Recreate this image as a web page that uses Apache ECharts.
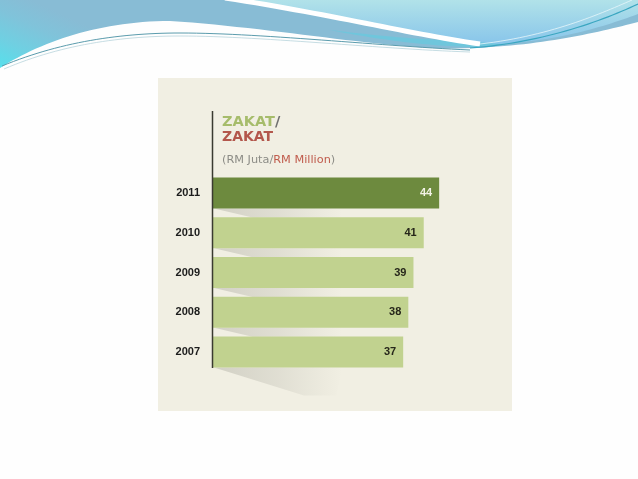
<!DOCTYPE html>
<html>
<head>
<meta charset="utf-8">
<script src="https://cdn.jsdelivr.net/npm/echarts@6/dist/echarts.min.js"></script>
<style>
html,body{margin:0;padding:0;background:#fefefe;}
#c{width:638px;height:479px;}
</style>
</head>
<body>
<div id="c"></div>
<script>
// ---- data ----
var years = ['2011', '2010', '2009', '2008', '2007'];
var zakat = [44, 41, 39, 38, 37];
var highlightYear = '2011';

// ---- decoration helpers (background wave only) ----
function bez(p0, p1, p2, p3, n) {
  var out = [];
  for (var i = 0; i <= n; i++) {
    var t = i / n, u = 1 - t;
    out.push([
      u*u*u*p0[0] + 3*u*u*t*p1[0] + 3*u*t*t*p2[0] + t*t*t*p3[0],
      u*u*u*p0[1] + 3*u*u*t*p1[1] + 3*u*t*t*p2[1] + t*t*t*p3[1]
    ]);
  }
  return out;
}
function chain(segs) {
  var pts = [];
  segs.forEach(function (s) { pts = pts.concat(bez(s[0], s[1], s[2], s[3], 30)); });
  return pts;
}
function lg(x1, y1, x2, y2, stops) {
  return {type: 'linear', x: x1, y: y1, x2: x2, y2: y2,
    colorStops: stops.map(function (s) { return {offset: s[0], color: s[1]}; })};
}

var waveA = [[0, 0], [638, 0]].concat(chain([
  [[638, 22], [600, 32], [540, 46], [470, 48]],
  [[470, 48], [400, 52], [280, 28], [170, 21]],
  [[170, 21], [100, 21], [40, 42], [0, 68]]
]));
var waveC = chain([
  [[638, 10], [600, 26], [540, 44], [470, 47]],
  [[470, 47], [430, 46], [380, 40], [330, 30]]
]).concat(chain([[[330, 30], [380, 36], [440, 42], [480, 40]]])).concat([[638, 10]]);
var waveB = [[230, 0], [638, 0]].concat(chain([
  [[638, 14], [600, 28], [560, 40], [500, 44]],
  [[500, 44], [440, 40], [360, 20], [230, 0]]
]));
var stripe = chain([[[225, -2], [330, 14], [410, 34], [480, 44]]]);
var thin1 = chain([[[2, 66], [60, 42], [120, 33], [180, 33]], [[180, 33], [260, 33], [380, 46], [470, 50]]]);
var thin2 = chain([[[4, 69], [60, 45], [120, 36], [180, 36]], [[180, 36], [260, 36], [380, 49], [470, 52]]]);
var thin3 = chain([[[470, 48], [540, 43], [600, 22], [638, 4]]]);
var thin4 = chain([[[480, 44], [550, 36], [600, 14], [632, 0]]]);

var chart = echarts.init(document.getElementById('c'), null, {renderer: 'canvas'});

var barData = years.map(function (y, i) {
  var hi = y === highlightYear;
  return {
    value: zakat[i],
    itemStyle: {color: hi ? '#6d8a3e' : '#c1d28f'},
    label: {color: hi ? '#f3f3e6' : '#26261a'}
  };
});
var shadowData = years.map(function (y, i) { return [zakat[i], y, i === years.length - 1 ? 1 : 0]; });

var option = {
  backgroundColor: '#fefefe',
  animation: false,
  grid: {left: 213, right: 168, top: 173, bottom: 107},
  xAxis: {type: 'value', min: 0, max: 50, show: false},
  yAxis: {
    type: 'category', data: years, inverse: true,
    axisLine: {show: false}, axisTick: {show: false},
    axisLabel: {fontFamily: 'Liberation Sans', fontWeight: 'bold', fontSize: 11, color: '#1c1c1c', margin: 13}
  },
  graphic: [
    {type: 'polygon', z: -10, silent: true, shape: {points: waveA},
      style: {fill: lg(0, 1, 0.05, 0, [[0, '#56e0ec'], [0.35, '#6fd0e2'], [0.7, '#80c3da'], [1, '#88bcd5']])}},
    {type: 'polygon', z: -9, silent: true, shape: {points: waveC},
      style: {fill: 'rgba(95,205,225,0.6)'}},
    {type: 'polygon', z: -9, silent: true, shape: {points: waveB},
      style: {fill: lg(0, 0, 0, 1, [[0, '#b1e2e9'], [1, '#88c5ea']])}},
    {type: 'polyline', z: -8, silent: true, shape: {points: stripe},
      style: {stroke: '#ffffff', lineWidth: 5}},
    {type: 'polyline', z: -7, silent: true, shape: {points: thin1},
      style: {stroke: '#5b9cad', lineWidth: 1}},
    {type: 'polyline', z: -7, silent: true, shape: {points: thin2},
      style: {stroke: '#b7d4dc', lineWidth: 0.8}},
    {type: 'polyline', z: -7, silent: true, shape: {points: thin3},
      style: {stroke: '#3aa6c0', lineWidth: 1.2}},
    {type: 'polyline', z: -7, silent: true, shape: {points: thin4},
      style: {stroke: '#e8f6fa', lineWidth: 0.8}},
    // panel
    {type: 'rect', z: -5, silent: true, shape: {x: 158, y: 78, width: 354, height: 333},
      style: {fill: '#f1efe3'}},
    // vertical rule
    {type: 'line', z: 5, silent: true, shape: {x1: 212.5, y1: 111, x2: 212.5, y2: 368},
      style: {stroke: '#3a3a30', lineWidth: 1.5}},
    // title
    {type: 'text', z: 5, x: 222, y: 122, silent: true,
      style: {text: '{g|ZAKAT}{s|/}', verticalAlign: 'middle', rich: {
        g: {fontFamily: 'DejaVu Sans', fontWeight: 'bold', fontSize: 14.5, fill: '#a6bc6b'},
        s: {fontFamily: 'DejaVu Sans', fontWeight: 'bold', fontSize: 14.5, fill: '#707070'}}}},
    {type: 'text', z: 5, x: 222, y: 137.5, silent: true,
      style: {text: 'ZAKAT', verticalAlign: 'middle', fontFamily: 'DejaVu Sans', fontWeight: 'bold', fontSize: 14, fill: '#b3574c'}},
    {type: 'text', z: 5, x: 222, y: 160, silent: true,
      style: {text: '{a|(RM Juta/}{b|RM Million}{a|)}', verticalAlign: 'middle', rich: {
        a: {fontFamily: 'DejaVu Sans', fontSize: 11.3, fill: '#8c8c86'},
        b: {fontFamily: 'DejaVu Sans', fontSize: 11.3, fill: '#c05c4d'}}}}
  ],
  series: [
    {
      type: 'custom', z: 1, silent: true,
      encode: {x: 0, y: 1},
      data: shadowData,
      renderItem: function (params, api) {
        var p = api.coord([0, api.value(1)]);
        var x0 = p[0] + 1;
        var yb = p[1] + 15.5;
        var k = api.size([25, 0])[0];
        var last = api.value(2) === 1;
        var h = last ? 28 : 9;
        var pts = last
          ? [[x0, yb], [x0 + k, yb], [x0 + k * 0.95, yb + h], [x0 + k * 0.7, yb + h]]
          : [[x0, yb], [x0 + k, yb], [x0 + k, yb + h], [x0 + k * 0.3, yb + h]];
        return {
          type: 'polygon',
          shape: {points: pts},
          style: {fill: lg(0, 0, 1, 0, [
            [0, 'rgba(110,110,100,0.24)'],
            [0.5, 'rgba(120,120,110,0.14)'],
            [1, 'rgba(130,130,120,0)']])}
        };
      }
    },
    {
      type: 'bar', z: 2, barWidth: 31,
      data: barData,
      label: {show: true, position: 'insideRight', distance: 7,
        fontFamily: 'Liberation Sans', fontWeight: 'bold', fontSize: 11}
    }
  ]
};
chart.setOption(option);
</script>
</body>
</html>
